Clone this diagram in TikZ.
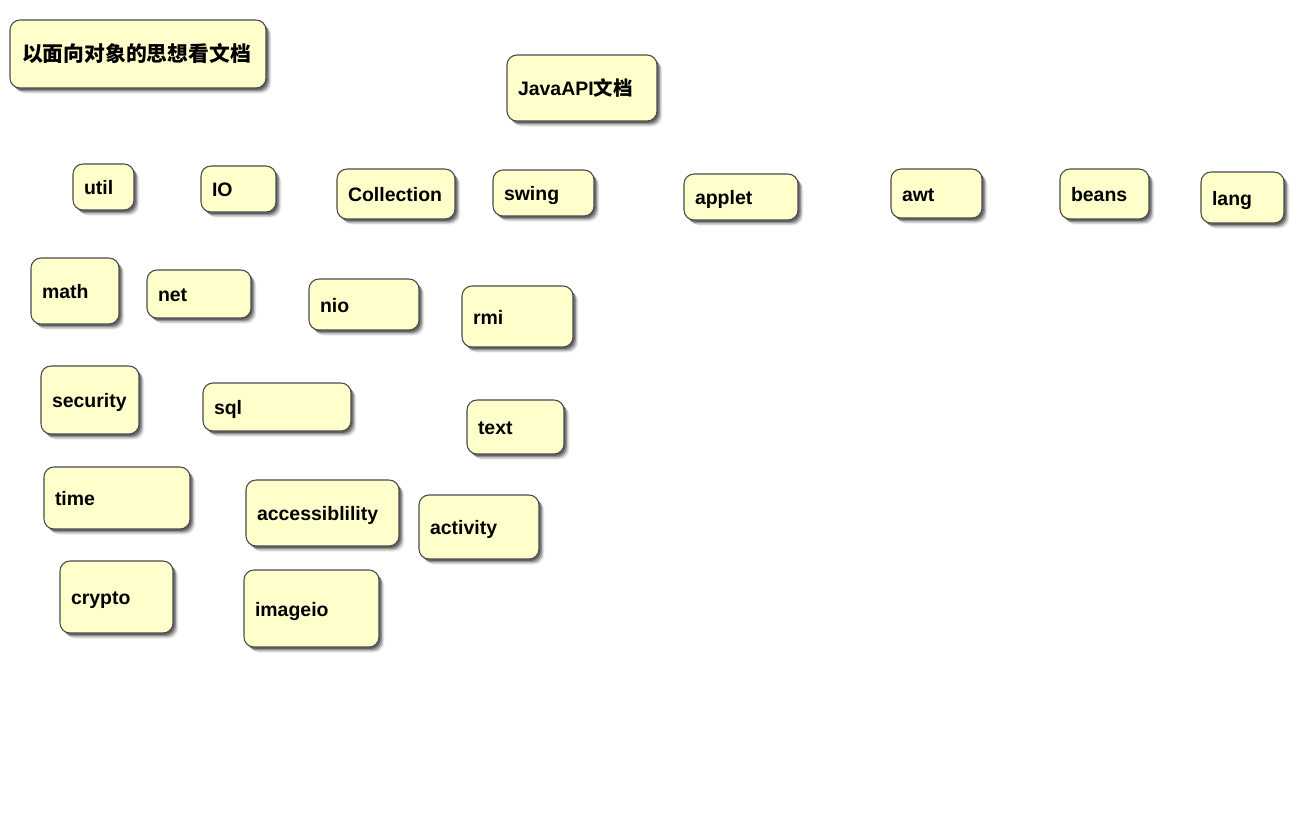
\documentclass[tikz,border=0pt]{standalone}
\usepackage{fontspec}
\setmainfont{Liberation Sans}
\newfontfamily\cjk{Noto Sans CJK SC}
\usetikzlibrary{shadows}
\definecolor{boxfill}{HTML}{FFFFCC}
\definecolor{boxline}{HTML}{4A4A4A}
\tikzset{
  jbox/.style={draw=boxline, line width=0.8pt, fill=boxfill, rounded corners=7.5pt,
    inner sep=0pt, outer sep=0pt,
    general shadow={shadow xshift=1.2pt, shadow yshift=-1.4pt, fill=black, opacity=0.3},
    general shadow={shadow xshift=2.2pt, shadow yshift=-2.4pt, fill=black, opacity=0.28},
    general shadow={shadow xshift=3.2pt, shadow yshift=-3.4pt, fill=black, opacity=0.16},
    general shadow={shadow xshift=4.0pt, shadow yshift=-4.2pt, fill=black, opacity=0.07}},
  jlabel/.style={inner sep=0pt, outer sep=0pt, font=\fontsize{14.6pt}{16pt}\selectfont\bfseries, text=black}
}
\newcommand\jbox[8]{%
  \node[jbox, anchor=north west, minimum width={(#4-#2)*0.75pt}, minimum height={(#5-#3)*0.75pt}] (#1) at (#2,#3) {};
  \node[jlabel, anchor=base west] (#1-t) at (#6,#7) {#8};
}
\begin{document}
\begin{tikzpicture}[x=0.75pt,y=-0.75pt]
\useasboundingbox[fill=white] (0,0) rectangle (1302,819);
\jbox{title}{10}{20}{266}{88}{22}{61}{\cjk\bfseries\fontsize{15.6pt}{17pt}\selectfont 以面向对象的思想看文档}
\jbox{api}{507}{55}{657}{121}{518}{95}{JavaAPI{\cjk\bfseries 文档}}
\jbox{util}{73}{164}{134}{210}{84}{194}{util}
\jbox{io}{201}{166}{276}{212}{212}{196}{IO}
\jbox{coll}{337}{169}{455}{219}{348}{201}{Collection}
\jbox{swing}{493}{170}{594}{216}{504}{200}{swing}
\jbox{applet}{684}{174}{798}{220}{695}{204}{applet}
\jbox{awt}{891}{169}{982}{218}{902}{201}{awt}
\jbox{beans}{1060}{169}{1149}{219}{1071}{201}{beans}
\jbox{lang}{1201}{172}{1284}{223}{1212}{205}{lang}
\jbox{math}{31}{258}{119}{324}{42}{298}{math}
\jbox{net}{147}{270}{251}{318}{158}{301}{net}
\jbox{nio}{309}{279}{419}{330}{320}{312}{nio}
\jbox{rmi}{462}{286}{573}{347}{473}{324}{rmi}
\jbox{security}{41}{366}{139}{434}{52}{407}{security}
\jbox{sql}{203}{383}{351}{431}{214}{414}{sql}
\jbox{text}{467}{400}{564}{454}{478}{434}{text}
\jbox{time}{44}{467}{190}{529}{55}{505}{time}
\jbox{access}{246}{480}{399}{546}{257}{520}{accessiblility}
\jbox{activity}{419}{495}{539}{559}{430}{534}{activity}
\jbox{crypto}{60}{561}{173}{633}{71}{604}{crypto}
\jbox{imageio}{244}{570}{379}{647}{255}{616}{imageio}
\end{tikzpicture}
\end{document}
